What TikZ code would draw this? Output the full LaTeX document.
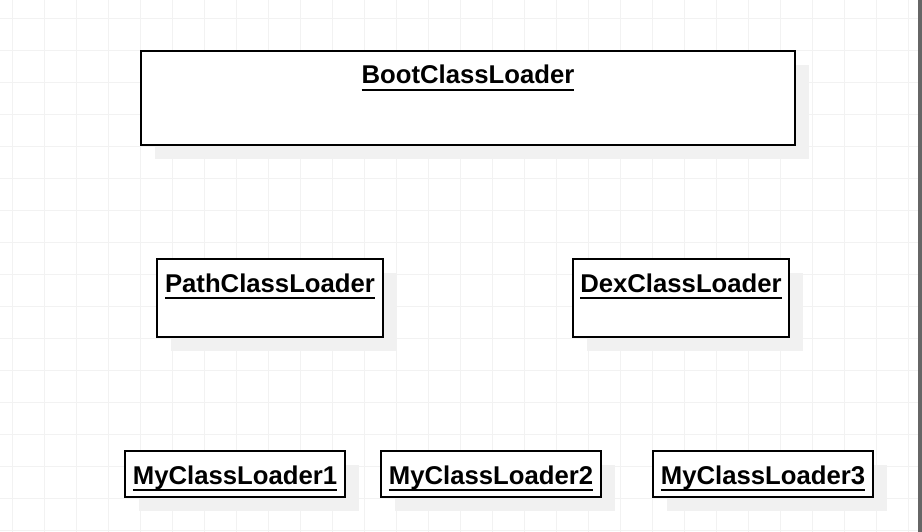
\documentclass[tikz,border=0pt]{standalone}
\usepackage{fontspec}
\setmainfont{Liberation Sans}
\usepackage{tikz}
\usetikzlibrary{calc}
\usetikzlibrary{positioning}
\usetikzlibrary{shadows}
\definecolor{gridgray}{HTML}{F2F2F2}
\definecolor{shadowgray}{HTML}{F1F1F1}
\definecolor{bargray}{HTML}{666666}
\newcommand{\ulname}[1]{\setbox0\hbox{#1}\rlap{\rule[-6.8pt]{\wd0}{2pt}}\box0}
\tikzset{
  gridline/.style = {draw=gridgray, line width=1pt},
  classbox/.style = {rectangle, draw=black, fill=white, line width=2pt, inner sep=0pt,
    drop shadow={shadow xshift=14pt, shadow yshift=-14pt, fill=shadowgray, opacity=1}},
  classname/.style = {anchor=base, inner sep=0pt, font=\fontsize{25.7}{30}\selectfont\bfseries}
}
\begin{document}
\begin{tikzpicture}[x=1pt, y=-1pt]
  \useasboundingbox (0,0) rectangle (922,532);
  \fill[white] (0,0) rectangle (922,532);

  % background grid
  \foreach \gx in {0,...,28}
    \draw[gridline] ({12.5+32*\gx},0) -- ({12.5+32*\gx},532);
  \foreach \gy in {0,...,16}
    \draw[gridline] (0,{18.5+32*\gy}) -- (922,{18.5+32*\gy});
  \fill[bargray] (918,0) rectangle (922,532);

  % class boxes
  \node[classbox, minimum width=654, minimum height=94] (boot) at (468,98) {};
  \node[classbox, minimum width=226, minimum height=78] (path) at (270,298) {};
  \node[classbox, minimum width=216, minimum height=78] (dex) at (681,298) {};
  \node[classbox, minimum width=220, minimum height=46] (my1) at (235,474) {};
  \node[classbox, minimum width=220, minimum height=46] (my2) at (491,474) {};
  \node[classbox, minimum width=220, minimum height=46] (my3) at (763,474) {};

  % names
  \node[classname] (bootname) at ($(boot.north)+(0,34)$) {\ulname{BootClassLoader}};
  \node[classname] (pathname) at ($(path.north)+(0,34)$) {\ulname{PathClassLoader}};
  \node[classname] (dexname) at ($(dex.north)+(0,34)$) {\ulname{DexClassLoader}};
  \node[classname] (my1name) at ($(my1.north)+(0,34)$) {\ulname{MyClassLoader1}};
  \node[classname] (my2name) at ($(my2.north)+(0,34)$) {\ulname{MyClassLoader2}};
  \node[classname] (my3name) at ($(my3.north)+(0,34)$) {\ulname{MyClassLoader3}};
\end{tikzpicture}
\end{document}
